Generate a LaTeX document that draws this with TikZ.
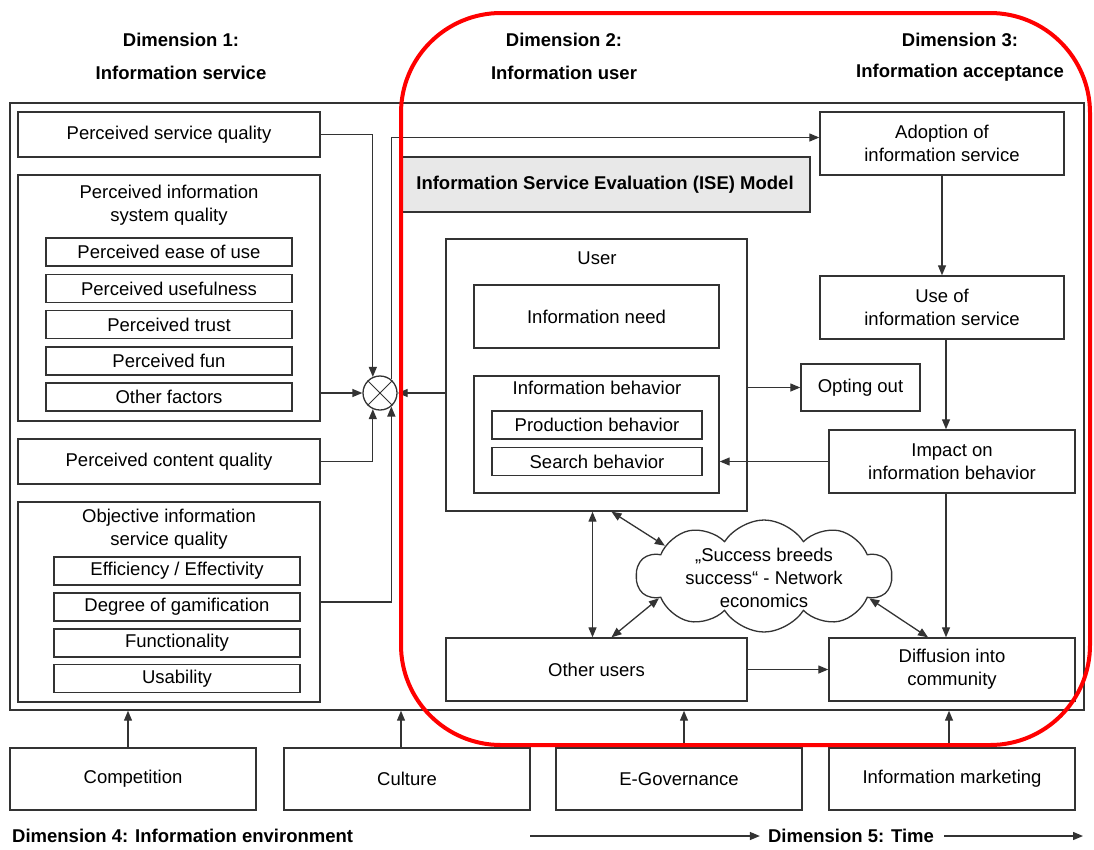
\documentclass[tikz,border=0pt]{standalone}
\usepackage{fontspec}
\setmainfont{Liberation Sans}
\usetikzlibrary{arrows.meta,shapes.symbols,calc}
\definecolor{lc}{HTML}{333333}
\definecolor{isegray}{HTML}{E8E8E8}
\definecolor{redline}{HTML}{FF0000}
\begin{document}
\begin{tikzpicture}[x=1pt,y=-1pt,
  every node/.style={font=\fontsize{18.5}{23}\selectfont, text=black},
  box/.style={draw=lc, line width=1.4pt, inner sep=0pt, align=center},
  ln/.style={draw=lc, line width=1.3pt},
  arr/.style={ln, -{Triangle[length=10pt,width=8pt]}},
  darr/.style={ln, {Triangle[length=10pt,width=8pt]}-{Triangle[length=10pt,width=8pt]}},
  hd/.style={font=\fontsize{18.5}{23}\selectfont\bfseries, inner sep=0pt}]
\useasboundingbox (0,0) rectangle (1094,849);

% headers
\node[hd] (h1a) at (181,40) {Dimension 1:};
\node[hd] (h1b) at (181,73) {Information service};
\node[hd] (h2a) at (564,40) {Dimension 2:};
\node[hd] (h2b) at (564,73) {Information user};
\node[hd] (h3a) at (960,40) {Dimension 3:};
\node[hd] (h3b) at (960,73) {Information acceptance};

% outer frame
\node[box, minimum width=1074, minimum height=607] (frame) at (547,406.5) {};

% dimension 1
\node[box, minimum width=302, minimum height=45] (psq) at (169,134.5) {Perceived service quality};
\node[box, minimum width=302, minimum height=246] (pisq) at (169,298) {};
\node[align=center, inner sep=0pt] (pisqt) at (169,205) {Perceived information\\system quality};
\node[box, minimum width=246, minimum height=28] (peou) at (169,252) {Perceived ease of use};
\node[box, minimum width=246, minimum height=28] (pu) at (169,288.5) {Perceived usefulness};
\node[box, minimum width=246, minimum height=28] (pt) at (169,324.5) {Perceived trust};
\node[box, minimum width=246, minimum height=28] (pf) at (169,361) {Perceived fun};
\node[box, minimum width=246, minimum height=28] (of) at (169,397) {Other factors};
\node[box, minimum width=302, minimum height=45] (pcq) at (169,461.5) {Perceived content quality};
\node[box, minimum width=302, minimum height=200] (oisq) at (169,602) {};
\node[align=center, inner sep=0pt] (oisqt) at (169,529) {Objective information\\service quality};
\node[box, minimum width=246, minimum height=28] (eff) at (177,571) {Efficiency / Effectivity};
\node[box, minimum width=246, minimum height=28] (deg) at (177,607) {Degree of gamification};
\node[box, minimum width=246, minimum height=28] (fun) at (177,643) {Functionality};
\node[box, minimum width=246, minimum height=28] (usa) at (177,678.5) {Usability};

% combiner
\node[draw=lc, line width=1.3pt, circle, minimum size=34, inner sep=0pt] (comb) at (380,393) {};
\draw[lc, line width=1pt] (comb.45) -- (comb.225) (comb.135) -- (comb.315);

% ISE model
\node[box, fill=isegray, minimum width=410, minimum height=55, font=\fontsize{18.5}{23}\selectfont\bfseries] (ise) at (605,184.5) {Information Service Evaluation (ISE) Model};

% user
\node[box, minimum width=301, minimum height=272] (user) at (596.5,375) {};
\node[inner sep=0pt] (usert) at (597,258) {User};
\node[box, minimum width=245, minimum height=63] (need) at (596.5,316.5) {Information need};
\node[box, minimum width=245, minimum height=117] (ib) at (596.5,434.5) {};
\node[inner sep=0pt] (ibt) at (597,388) {Information behavior};
\node[box, minimum width=210, minimum height=28] (prod) at (597,425) {Production behavior};
\node[box, minimum width=210, minimum height=28] (srch) at (597,461.5) {Search behavior};
\node[box, minimum width=301, minimum height=63] (others) at (596.5,669.5) {Other users};
\node[box, minimum width=119, minimum height=47] (opt) at (860.5,387.5) {Opting out};

% dimension 3
\node[box, minimum width=244, minimum height=63] (adopt) at (942,143.5) {Adoption of\\information service};
\node[box, minimum width=244, minimum height=63] (use) at (942,307.5) {Use of\\information service};
\node[box, minimum width=246, minimum height=63] (impact) at (952,461.5) {Impact on\\information behavior};
\node[box, minimum width=246, minimum height=63] (diff) at (952,669.5) {Diffusion into\\community};

% cloud
\node[cloud, draw=lc, line width=1.3pt, cloud puffs=10, cloud puff arc=115, cloud ignores aspect, minimum width=255, minimum height=112, inner sep=0pt] (cl) at (764,576) {};
\node[align=center, inner sep=0pt] (clt) at (764,578) {„Success breeds\\success“ - Network\\economics};

% dimension 4 boxes
\node[box, minimum width=246, minimum height=62] (comp) at (133,779) {Competition};
\node[box, minimum width=246, minimum height=62] (cult) at (407,779) {Culture};
\node[box, minimum width=246, minimum height=62] (egov) at (679,779) {E-Governance};
\node[box, minimum width=246, minimum height=62] (imkt) at (952,779) {Information marketing};

% bottom texts
\node[hd, anchor=west] (d4) at (12,836) {Dimension 4: Information environment};
\node[hd] (d5) at (851,836) {Dimension 5: Time};
\coordinate (tstart) at (530,836);
\coordinate (tend) at (1083,836);
\draw[arr] (tstart) -- ($(d5.west)+(-8,0)$);
\draw[arr] ($(d5.east)+(10,0)$) -- (tend);

% connectors into combiner
\draw[arr] (psq.east) -| (comb.114);
\draw[arr] (pisq.east |- comb.west) -- (comb.west);
\draw[arr] (pcq.east) -| (comb.246);
\draw[arr] (oisq.east) -| (comb.310);
\draw[arr] (user.west |- comb.east) -- (comb.east);
\coordinate (ain) at ($(adopt.west)+(0,-6)$);
\draw[arr] (comb.50) |- (ain);

% dimension 2/3 connectors
\draw[arr] (user.east |- opt.west) -- (opt.west);
\draw[arr] (adopt.south) -- (use.north);
\coordinate (u1) at ($(use.south)+(4,0)$);
\draw[arr] (u1) -- (u1 |- impact.north);
\draw[arr] (impact.west) -- (impact.west -| ib.east);
\coordinate (i1) at ($(impact.south)+(-6,0)$);
\draw[arr] (i1) -- (i1 |- diff.north);
\draw[arr] (others.east |- diff.west) -- (diff.west);
\coordinate (v1) at ($(user.south)+(-4,0)$);
\draw[darr] (v1) -- (v1 |- others.north);
\coordinate (v2) at ($(user.south)+(15,0)$);
\draw[darr] (v2) -- (cl.163);
\coordinate (v3) at ($(others.north)+(15,0)$);
\draw[darr] (v3) -- (cl.192);
\coordinate (v4) at ($(diff.north)+(-24,0)$);
\draw[darr] (cl.348) -- (v4);

% dimension 4 arrows
\coordinate (b1) at ($(comp.north)+(-5,0)$);
\draw[arr] (b1) -- (b1 |- frame.south);
\coordinate (b2) at ($(cult.north)+(-6,0)$);
\draw[arr] (b2) -- (b2 |- frame.south);
\coordinate (b3) at ($(egov.north)+(5,0)$);
\draw[arr] (b3) -- (b3 |- frame.south);
\coordinate (b4) at ($(imkt.north)+(-3,0)$);
\draw[arr] (b4) -- (b4 |- frame.south);

% red highlight
\draw[redline, line width=4pt, rounded corners=100pt] (401,13) rectangle (1090,745);
\end{tikzpicture}
\end{document}
